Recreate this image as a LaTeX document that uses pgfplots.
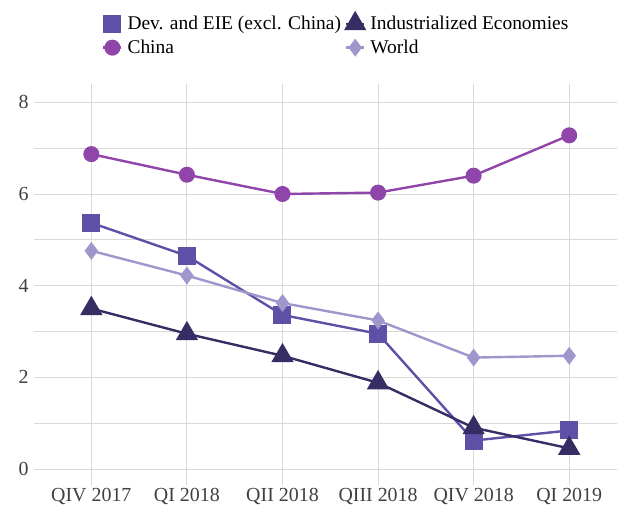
\documentclass[border=0pt]{standalone}
\usepackage{pgfplots}
\pgfplotsset{compat=1.18}
\usepackage{fontspec}
\setmainfont{Liberation Serif}
\definecolor{cDev}{HTML}{5E50A6}
\definecolor{cChina}{HTML}{8F45AA}
\definecolor{cInd}{HTML}{372C63}
\definecolor{cWorld}{HTML}{9F96CC}
\definecolor{gridc}{HTML}{D9D9D9}
\definecolor{tickc}{HTML}{404040}
\begin{document}
\begin{tikzpicture}[x=1bp,y=1bp]
\begin{axis}[
  scale only axis,
  width=583bp, height=401bp,
  xmin=-0.6, xmax=5.5,
  ymin=-0.35, ymax=8.4,
  axis line style={draw=none},
  xtick={0,1,2,3,4,5},
  xticklabels={QIV 2017,QI 2018,QII 2018,QIII 2018,QIV 2018,QI 2019},
  ytick={0,2,4,6,8},
  minor ytick={1,3,5,7},
  major tick length=0pt, minor tick length=0pt,
  xmajorgrids, ymajorgrids, yminorgrids,
  grid style={gridc, line width=0.9bp},
  minor grid style={gridc, line width=0.9bp},
  tick label style={font=\fontsize{20}{23}\selectfont, text=tickc},
  /pgf/number format/assume math mode=true,
  yticklabel style={xshift=-2bp},
  legend columns=2,
  legend style={draw=none, fill=none, font=\fontsize{19.5}{22}\selectfont,
    inner sep=0pt,
    at={(axis description cs:0.1166,1.177)}, anchor=north west,
    /tikz/every odd column/.append style={column sep=3bp},
    /tikz/every even column/.append style={column sep=2bp},
    row sep=5bp},
  legend cell align=left,
  legend image code/.code={\draw[mark repeat=2,mark phase=2] plot coordinates {(0bp,0bp) (9bp,0bp) (18bp,0bp)};},
  every axis plot/.append style={line width=2.4bp},
]
\addplot[color=cDev, mark=square*, mark size=7.8bp, mark options={solid}] coordinates {
  (0,5.37) (1,4.65) (2,3.36) (3,2.95) (4,0.62) (5,0.84)};
\addlegendentry{Dev. and EIE (excl. China)}
\addplot[color=cInd, mark=triangle*, mark size=10.5bp] coordinates {
  (0,3.50) (1,2.95) (2,2.47) (3,1.88) (4,0.90) (5,0.45)};
\addlegendentry{Industrialized Economies}
\addplot[color=cChina, mark=*, mark size=6.8bp] coordinates {
  (0,6.87) (1,6.42) (2,6.00) (3,6.03) (4,6.40) (5,7.28)};
\addlegendentry{China}
\addplot[color=cWorld, mark=diamond*, mark size=7bp] coordinates {
  (0,4.76) (1,4.22) (2,3.62) (3,3.24) (4,2.43) (5,2.47)};
\addlegendentry{World}
\end{axis}
\pgfresetboundingbox
\useasboundingbox (-34bp,-27bp) rectangle (583bp,485bp);
\end{tikzpicture}
\end{document}
